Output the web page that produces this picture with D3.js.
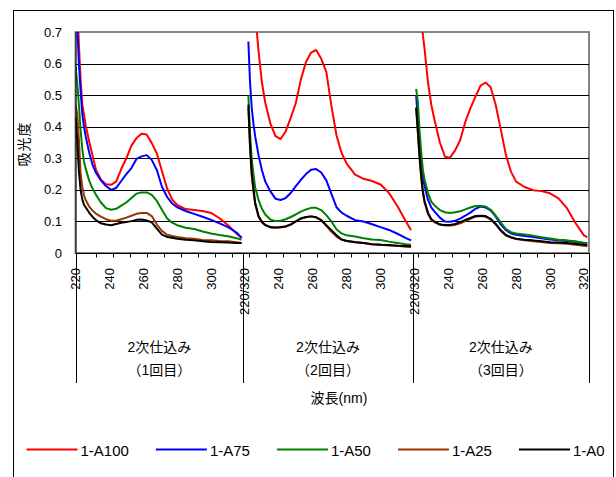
<!DOCTYPE html>
<html>
<head>
<meta charset="utf-8">
<script src="https://cdn.jsdelivr.net/npm/d3@7"></script>
<style>
  body { margin: 0; background: #fff; }
  svg { display: block; }
  text { font-family: "Liberation Sans", "Noto Sans CJK JP", sans-serif; fill: #000; }
</style>
</head>
<body>
<svg id="chart" width="616" height="477"></svg>
<script>
// Series (legend order) and colours
const seriesNames = ["1-A100", "1-A75", "1-A50", "1-A25", "1-A0"];
const seriesColors = ["#ff0000", "#0000ff", "#008000", "#993300", "#000000"];

// Run (group) labels along the category axis
const runLabels = ["2次仕込み", "2次仕込み", "2次仕込み"];
const runSubLabels = ["（1回目）", "（2回目）", "（3回目）"];

// Axis texts
const yTicks = [0, 0.1, 0.2, 0.3, 0.4, 0.5, 0.6, 0.7];
const xTickLabels = ["220", "240", "260", "280", "300", "220/320",
                     "240", "260", "280", "300", "220/320",
                     "240", "260", "280", "300", "320"];
const yTitle = "吸光度";
const xTitle = "波長(nm)";

// Wavelengths (nm) of each run
const wl1 = [220,221,222,223,224,225,226,228,230,232,235,238,241,244,247,250,253,256,259,262,265,268,271,274,277,280,285,290,295,300,305,310,315,318];
const wl2 = [222,223,224,225,226,228,230,232,235,238,241,244,247,250,253,256,259,262,265,268,271,274,277,280,285,290,295,300,305,310,315,318];
const wl3 = [221,222,223,224,225,226,228,230,232,235,238,241,244,247,250,253,256,259,262,265,268,271,274,277,280,285,290,295,300,305,310,315,320,322];

// Absorbance, run 1
const run1A100 = [1.0,0.8,0.66,0.55,0.47,0.44,0.405,0.355,0.31,0.265,0.232,0.218,0.216,0.226,0.266,0.30,0.34,0.364,0.378,0.375,0.348,0.315,0.26,0.205,0.17,0.152,0.139,0.136,0.133,0.127,0.11,0.088,0.062,0.048];
const run1A75  = [0.9,0.72,0.6,0.515,0.44,0.40,0.37,0.32,0.28,0.255,0.23,0.212,0.2,0.206,0.228,0.25,0.269,0.298,0.306,0.31,0.295,0.263,0.21,0.178,0.157,0.145,0.133,0.124,0.115,0.105,0.094,0.082,0.065,0.048];
const run1A50  = [0.59,0.54,0.47,0.39,0.33,0.29,0.268,0.23,0.205,0.185,0.16,0.142,0.137,0.14,0.15,0.16,0.174,0.188,0.192,0.192,0.184,0.165,0.137,0.11,0.096,0.088,0.08,0.076,0.068,0.062,0.057,0.053,0.047,0.042];
const run1A25  = [0.47,0.44,0.36,0.253,0.21,0.183,0.168,0.148,0.135,0.125,0.115,0.107,0.102,0.102,0.107,0.112,0.118,0.124,0.127,0.127,0.117,0.09,0.07,0.058,0.054,0.051,0.047,0.045,0.041,0.04,0.038,0.037,0.034,0.032];
const run1A0   = [0.43,0.36,0.26,0.2,0.17,0.153,0.145,0.128,0.115,0.104,0.094,0.09,0.088,0.092,0.096,0.098,0.101,0.105,0.106,0.103,0.097,0.077,0.058,0.051,0.048,0.045,0.042,0.04,0.037,0.035,0.034,0.033,0.032,0.032];

// Absorbance, run 2
const run2A100 = [1.2,1.05,0.95,0.85,0.76,0.64,0.54,0.475,0.41,0.37,0.361,0.385,0.428,0.475,0.55,0.605,0.635,0.643,0.615,0.574,0.466,0.373,0.317,0.283,0.248,0.235,0.228,0.217,0.19,0.148,0.1,0.072];
const run2A75  = [0.67,0.54,0.46,0.41,0.37,0.31,0.262,0.226,0.195,0.172,0.168,0.174,0.19,0.212,0.232,0.25,0.264,0.266,0.255,0.23,0.187,0.145,0.128,0.118,0.104,0.1,0.091,0.082,0.073,0.061,0.047,0.04];
const run2A50  = [0.50,0.38,0.296,0.25,0.208,0.168,0.14,0.122,0.106,0.101,0.102,0.107,0.114,0.122,0.131,0.138,0.143,0.143,0.136,0.12,0.1,0.075,0.062,0.056,0.052,0.047,0.043,0.041,0.036,0.032,0.028,0.026];
const run2A25  = [0.46,0.33,0.243,0.195,0.155,0.115,0.097,0.088,0.081,0.08,0.081,0.084,0.091,0.1,0.108,0.113,0.116,0.113,0.104,0.086,0.068,0.052,0.042,0.039,0.035,0.032,0.028,0.026,0.024,0.023,0.02,0.019];
const run2A0   = [0.47,0.34,0.253,0.205,0.16,0.117,0.099,0.089,0.082,0.081,0.082,0.084,0.09,0.1,0.11,0.114,0.116,0.113,0.104,0.088,0.072,0.056,0.043,0.038,0.034,0.032,0.028,0.026,0.025,0.023,0.022,0.021];

// Absorbance, run 3
const run3A100 = [1.1,0.95,0.85,0.76,0.69,0.645,0.54,0.468,0.418,0.35,0.305,0.302,0.325,0.358,0.415,0.458,0.495,0.53,0.54,0.525,0.468,0.39,0.31,0.257,0.226,0.209,0.199,0.196,0.189,0.173,0.142,0.095,0.056,0.05];
const run3A75  = [0.5,0.42,0.34,0.28,0.24,0.212,0.168,0.144,0.13,0.112,0.1,0.099,0.102,0.109,0.118,0.128,0.14,0.147,0.144,0.135,0.115,0.09,0.072,0.062,0.058,0.054,0.051,0.047,0.043,0.04,0.038,0.036,0.032,0.03];
const run3A50  = [0.52,0.48,0.39,0.32,0.262,0.232,0.19,0.162,0.15,0.136,0.129,0.127,0.129,0.132,0.138,0.144,0.149,0.149,0.147,0.137,0.118,0.096,0.076,0.066,0.062,0.059,0.055,0.05,0.046,0.042,0.04,0.037,0.032,0.03];
const run3A25  = [0.46,0.38,0.3,0.235,0.19,0.16,0.124,0.104,0.097,0.09,0.087,0.087,0.089,0.094,0.101,0.108,0.115,0.117,0.115,0.106,0.09,0.07,0.055,0.049,0.044,0.04,0.037,0.035,0.032,0.031,0.029,0.026,0.023,0.021];
const run3A0   = [0.46,0.39,0.31,0.245,0.195,0.163,0.127,0.107,0.099,0.09,0.089,0.089,0.092,0.098,0.105,0.111,0.117,0.118,0.117,0.108,0.092,0.072,0.057,0.05,0.045,0.042,0.04,0.037,0.034,0.033,0.032,0.029,0.026,0.025];

const runs = [
  { wl: wl1, values: [run1A100, run1A75, run1A50, run1A25, run1A0] },
  { wl: wl2, values: [run2A100, run2A75, run2A50, run2A25, run2A0] },
  { wl: wl3, values: [run3A100, run3A75, run3A50, run3A25, run3A0] }
];

// ---- layout ----
const svg = d3.select("#chart");
const plot = { left: 75.5, right: 589, top: 32, bottom: 253 };
const runSpan = 100;          // category units per run (220–320 nm)
const axisEnd = 303;          // last category unit on the axis

// category position: run index * span + offset in nm from 220
const pos = (r, w) => r * runSpan + (w - 220);
const x = d3.scaleLinear().domain([0, axisEnd]).range([plot.left, plot.right]);
const y = d3.scaleLinear().domain([0, 0.7]).range([plot.bottom, plot.top]);

// outer chart frame
svg.append("rect")
  .attr("x", 13.5).attr("y", 10.5).attr("width", 600).attr("height", 520)
  .attr("fill", "#fff").attr("stroke", "#000").attr("stroke-width", 1);

// plot frame (grey top/right)
svg.append("rect")
  .attr("x", x(0)).attr("y", plot.top)
  .attr("width", plot.right - x(0)).attr("height", plot.bottom - plot.top)
  .attr("fill", "#fff").attr("stroke", "#858585").attr("stroke-width", 2);

// horizontal gridlines
svg.append("g").selectAll("line")
  .data(yTicks.filter(v => v > 0 && v < 0.7))
  .join("line")
  .attr("x1", x(0)).attr("x2", plot.right)
  .attr("y1", d => Math.round(y(d)) + 0.5).attr("y2", d => Math.round(y(d)) + 0.5)
  .attr("stroke", "#000").attr("stroke-width", 1);

// y tick labels
svg.append("g").selectAll("text")
  .data(yTicks)
  .join("text")
  .attr("x", 62).attr("y", d => y(d))
  .attr("text-anchor", "end").attr("dominant-baseline", "central")
  .attr("font-size", 13)
  .text(d => d === 0 ? "0" : d3.format(".1f")(d));

// y title
svg.append("text")
  .attr("transform", "translate(24,144) rotate(-90)")
  .attr("text-anchor", "middle").attr("dominant-baseline", "central")
  .attr("font-size", 14).attr("letter-spacing", 1)
  .text(yTitle);

// series lines, clipped to the plot area
svg.append("clipPath").attr("id", "plotClip")
  .append("rect")
  .attr("x", x(0)).attr("y", plot.top)
  .attr("width", plot.right - x(0)).attr("height", plot.bottom - plot.top);

const lineGen = d3.line()
  .x(d => x(d.p))
  .y(d => y(d.v));

const linesG = svg.append("g").attr("clip-path", "url(#plotClip)");
seriesNames.forEach((name, si) => {
  runs.forEach((run, ri) => {
    const pts = run.wl.map((w, i) => ({ p: pos(ri, w), v: run.values[si][i] }));
    linesG.append("path")
      .datum(pts)
      .attr("d", lineGen)
      .attr("fill", "none")
      .attr("stroke", seriesColors[si])
      .attr("stroke-width", 2)
      .attr("stroke-linejoin", "round");
  });
});

// axis lines
svg.append("line")
  .attr("x1", 76).attr("x2", 76).attr("y1", plot.top).attr("y2", plot.bottom)
  .attr("stroke", "#000").attr("stroke-width", 1);
svg.append("line")
  .attr("x1", x(0)).attr("x2", plot.right).attr("y1", plot.bottom + 0.5).attr("y2", plot.bottom + 0.5)
  .attr("stroke", "#000").attr("stroke-width", 1);

// minor category ticks every 10 nm
const tickIdx = d3.range(1, 30).map(k => 2.3 + 10 * k);
svg.append("g").selectAll("line")
  .data(tickIdx)
  .join("line")
  .attr("x1", d => Math.round(x(d)) + 0.5).attr("x2", d => Math.round(x(d)) + 0.5)
  .attr("y1", plot.bottom).attr("y2", plot.bottom + 4.5)
  .attr("stroke", "#000").attr("stroke-width", 1);

// run separators (long ticks of the group level)
const sepIdx = [0, runSpan - 1, 2 * runSpan - 1, axisEnd];
svg.append("g").selectAll("line")
  .data(sepIdx)
  .join("line")
  .attr("x1", d => Math.round(x(d)) + 0.5).attr("x2", d => Math.round(x(d)) + 0.5)
  .attr("y1", plot.bottom).attr("y2", 383)
  .attr("stroke", "#000").attr("stroke-width", 1);

// rotated wavelength labels
svg.append("g").selectAll("text")
  .data(xTickLabels)
  .join("text")
  .attr("transform", (d, i) => `translate(${x(i * 20)},268) rotate(-90)`)
  .attr("text-anchor", "end").attr("dominant-baseline", "central")
  .attr("font-size", 13)
  .text(d => d);

// run labels
const runCenters = [0, 1, 2].map(r => (x(sepIdx[r]) + x(sepIdx[r + 1])) / 2);
svg.append("g").selectAll("text")
  .data(runLabels)
  .join("text")
  .attr("x", (d, i) => runCenters[i]).attr("y", 347)
  .attr("text-anchor", "middle").attr("dominant-baseline", "central")
  .attr("font-size", 14)
  .text(d => d);
svg.append("g").selectAll("text")
  .data(runSubLabels)
  .join("text")
  .attr("x", (d, i) => runCenters[i]).attr("y", 370)
  .attr("text-anchor", "middle").attr("dominant-baseline", "central")
  .attr("font-size", 14)
  .text(d => d);

// x title
svg.append("text")
  .attr("x", 339).attr("y", 398)
  .attr("text-anchor", "middle").attr("dominant-baseline", "central")
  .attr("font-size", 14)
  .text(xTitle);

// legend
const legend = svg.append("g");
let lx = 26.5;
seriesNames.forEach((name, i) => {
  legend.append("line")
    .attr("x1", lx).attr("x2", lx + 51)
    .attr("y1", 449.5).attr("y2", 449.5)
    .attr("stroke", seriesColors[i]).attr("stroke-width", 2);
  const t = legend.append("text")
    .attr("x", lx + 54).attr("y", 450)
    .attr("dominant-baseline", "central")
    .attr("font-size", 15)
    .text(name);
  lx += 54 + t.node().getComputedTextLength() + 27;
});
</script>
</body>
</html>
